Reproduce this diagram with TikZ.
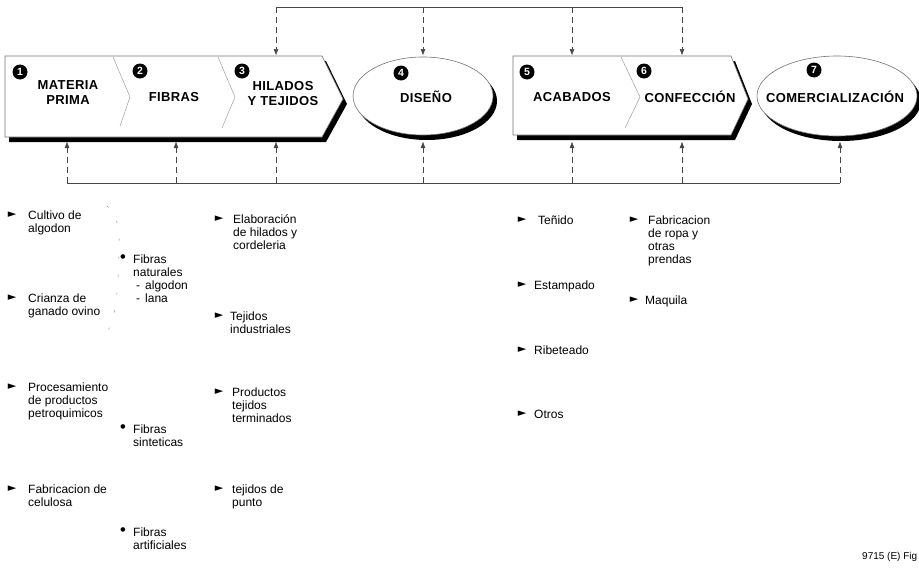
\documentclass[tikz,border=0pt]{standalone}
\usepackage{fontspec}
\setmainfont{Liberation Sans}
\newfontfamily\symbolFont{DejaVu Sans}
\usetikzlibrary{positioning, arrows.meta, shapes.geometric}
\definecolor{lineColor}{RGB}{70,70,70}
\definecolor{edgeColor}{RGB}{115,115,115}
\tikzstyle{diagram} = [x = 1pt, y = -1pt]
\tikzstyle{stageShape} = [draw=edgeColor, fill=white, line width=.6pt]
\tikzstyle{stageShadow} = [fill=black, draw=none]
\tikzstyle{stageDivider} = [draw=edgeColor!80, line width=.4pt]
\tikzstyle{stageText} = [font=\fontsize{13}{15}\selectfont\bfseries\addfontfeatures{LetterSpace=3}, align=center, inner sep=0pt]
\tikzstyle{numberDot} = [circle, fill=black, text=white, inner sep=0pt, minimum size=15pt, font=\fontsize{10.5}{10.5}\selectfont\bfseries]
\tikzstyle{feedLine} = [color=lineColor, line width=.5pt]
\tikzstyle{feedArrow} = [color=lineColor, line width=.5pt, dash pattern=on 6pt off 4pt, -{Triangle[length=6pt, width=4.5pt]}]
\tikzstyle{itemText} = [font=\fontsize{12}{13}\selectfont, align=left, anchor=north west, inner sep=0pt]
\tikzstyle{itemMark} = [font=\symbolFont\fontsize{11}{11}\selectfont, inner sep=0pt]
\tikzstyle{itemDot} = [font=\symbolFont\fontsize{6}{6}\selectfont, inner sep=0pt]
\tikzstyle{braceLine} = [color=edgeColor, line width=.4pt, dash pattern=on 2pt off 16pt]
\tikzstyle{footText} = [font=\fontsize{10}{10}\selectfont, inner sep=0pt, anchor=west]
\newcommand{\listItem}[5]{\node [itemMark] (#1Mark) at (#2,#4) {►}; \node [itemText] (#1) at (#3,#4-4.5) {#5};}
\newcommand{\fiberItem}[4]{\node [itemDot] (#1Dot) at (#2,#3-2) {●}; \node [itemText] (#1) at (#2+10,#3-4.5) {#4};}
\newcommand{\subFiber}[1]{\hspace{3pt}-\hspace{5pt}#1}

\begin{document}
\begin{tikzpicture}[diagram]
\useasboundingbox (0,0) rectangle (919,570);
\clip (0,0) rectangle (919,570);
% chevrons and ellipses
\fill [stageShadow] (9,61) -- (326,61) -- (347,104) -- (326,142) -- (9,142) -- cycle;
\draw [stageShape] (5,56) -- (322,56) -- (343,99) -- (322,137) -- (5,137) -- cycle;
\draw [stageDivider] (113,57) -- (130,97) -- (120,126);
\draw [stageDivider] (218,57) -- (235,97) -- (222,128);
\fill [stageShadow] (517,61) -- (735,61) -- (752,104) -- (735,140) -- (517,140) -- cycle;
\draw [stageShape] (513,56) -- (731,56) -- (748,99) -- (731,135) -- (513,135) -- cycle;
\draw [stageDivider] (621,57) -- (640,97) -- (625,128);
\node [ellipse, stageShadow, minimum width=140pt, minimum height=78pt] (disenoShadow) at (427,101) {};
\node [ellipse, stageShape, minimum width=140pt, minimum height=78pt] (diseno) at (423,96) {};
\node [ellipse, stageShadow, minimum width=160pt, minimum height=80pt] (comerShadow) at (841,101) {};
\node [ellipse, stageShape, minimum width=160pt, minimum height=80pt] (comer) at (837,96) {};
\foreach \n/\x/\y in {1/20/72, 2/140/71, 3/242/71, 4/401/73, 5/527/72, 6/644/71, 7/814/70}
  \node [numberDot] (num\n) at (\x,\y) {\n};
\node [stageText] (matText) at (68,93) {MATERIA\\PRIMA};
\node [stageText] (fibText) at (174,97) {FIBRAS};
\node [stageText] (hilText) at (283,94) {HILADOS\\Y TEJIDOS};
\node [stageText] (disText) at (426,97) {DISEÑO};
\node [stageText] (acaText) at (572,97) {ACABADOS};
\node [stageText] (conText) at (690,97) {CONFECCIÓN};
\node [stageText] (comText) at (835,97) {COMERCIALIZACIÓN};
% feedback lines
\foreach \name/\x in {Hil/276, Dis/423, Aca/572, Con/682} {
  \coordinate (top\name) at (\x,7);
  \coordinate (in\name) at (\x,55);
  \draw [feedArrow] (top\name) -- (in\name);
}
\draw [feedLine] (topHil) -- (topCon);
\foreach \name/\x in {Mat/67, Fib/176, Hil/276, Dis/423, Aca/572, Con/682, Com/840} {
  \coordinate (bot\name) at (\x,183);
  \coordinate (out\name) at (\x,142);
  \draw [feedArrow] (bot\name) -- (out\name);
}
\draw [feedLine] (botMat) -- (botCom);
% lists
\listItem{cultivo}{12}{28}{215}{Cultivo de\\algodon}
\listItem{crianza}{12}{28}{298}{Crianza de\\ganado ovino}
\listItem{petro}{12}{28}{387}{Procesamiento\\de productos\\petroquimicos}
\listItem{celulosa}{12}{28}{489}{Fabricacion de\\celulosa}
\draw [braceLine] (107,206) .. controls (118,214) and (120,232) .. (119,252) .. controls (118,290) and (116,320) .. (107,332);
\fiberItem{naturales}{123}{259}{Fibras\\naturales\\\subFiber{algodon}\\\subFiber{lana}}
\fiberItem{sinteticas}{123}{429}{Fibras\\sinteticas}
\fiberItem{artificiales}{123}{532}{Fibras\\artificiales}
\listItem{hilados}{219}{233}{219}{Elaboración\\de hilados y\\cordeleria}
\listItem{industriales}{219}{230}{316}{Tejidos\\industriales}
\listItem{terminados}{219}{232}{392}{Productos\\tejidos\\terminados}
\listItem{punto}{219}{232}{489}{tejidos de\\punto}
\listItem{tenido}{522}{538}{220}{Teñido}
\listItem{estampado}{522}{534}{285}{Estampado}
\listItem{ribeteado}{522}{534}{350}{Ribeteado}
\listItem{otros}{522}{534}{414}{Otros}
\listItem{ropa}{634}{648}{220}{Fabricacion\\de ropa y\\otras\\prendas}
\listItem{maquila}{634}{645}{300}{Maquila}
\node [footText] (figCode) at (862,557) {9715 (E) Fig};
\end{tikzpicture}
\end{document}
